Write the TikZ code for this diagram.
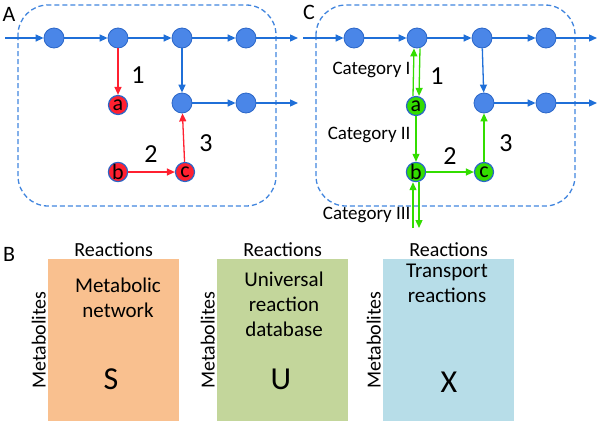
\documentclass[tikz,border=0pt]{standalone}
\usepackage{fontspec}
\setmainfont{Carlito}
\usetikzlibrary{arrows.meta}
\definecolor{nb}{HTML}{4A86E8}
\definecolor{nbd}{HTML}{2A66C8}
\definecolor{ab}{HTML}{1F6FD8}
\definecolor{rd}{HTML}{FF2030}
\definecolor{gr}{HTML}{33DD00}
\definecolor{bo}{HTML}{F9C08F}
\definecolor{bg}{HTML}{C3D69B}
\definecolor{bb}{HTML}{B7DDE8}
\begin{document}
\begin{tikzpicture}[x=1pt,y=-1pt,
 n/.style={circle,fill=nb,draw=nbd,line width=0.8pt,minimum size=20pt,inner sep=0pt},
 rn/.style={circle,fill=rd,draw=nbd,line width=1.2pt,minimum size=19pt,inner sep=0pt,font=\fontsize{22}{22}\selectfont},
 gn/.style={rn,fill=gr},
 ba/.style={-{Triangle[length=8pt,width=7pt]},ab,line width=1.3pt},
 ra/.style={-{Triangle[length=8pt,width=7pt]},rd,line width=1.3pt},
 ga/.style={-{Triangle[length=8pt,width=7pt]},gr,line width=1.3pt},
 box/.style={dash pattern=on 5pt off 3pt,ab!85,line width=1.3pt,rounded corners=30pt},
 lab/.style={font=\fontsize{22}{22}\selectfont},
 num/.style={font=\fontsize{26}{26}\selectfont},
 cat/.style={font=\fontsize{19}{19}\selectfont,anchor=east},
 mat/.style={minimum width=131pt,minimum height=162pt,anchor=north west,inner sep=0pt},
 hdr/.style={font=\fontsize{20}{20}\selectfont},
 txt/.style={font=\fontsize{21}{25}\selectfont,align=center},
 big/.style={font=\fontsize{32}{32}\selectfont}]
\useasboundingbox (0,0) rectangle (600,426);
% Panel A
\node[lab] (LA) at (9,14) {A};
\draw[box] (18,5) rectangle (276,206);
\coordinate (ainA) at (5,38);
\node[n] (a1) at (54,38) {};
\node[n] (a2) at (118,38) {};
\node[n] (a3) at (182,38) {};
\node[n] (a4) at (246,38) {};
\node[n] (a5) at (182,103) {};
\node[n] (a6) at (246,103) {};
\coordinate (aout1) at (298,38);
\coordinate (aout2) at (298,103);
\node[rn] (aa) at (118,105) {a};
\node[rn] (ab) at (118,172) {b};
\node[rn] (ac) at (185,172) {c};
\draw[ba] (ainA) -- (a1);
\draw[ba] (a1) -- (a2);
\draw[ba] (a2) -- (a3);
\draw[ba] (a3) -- (a4);
\draw[ba] (a4) -- (aout1);
\draw[ba] (a3) -- (a5);
\draw[ba] (a5) -- (a6);
\draw[ba] (a6) -- (aout2);
\draw[ra] (a2) -- (aa);
\draw[ra] (ab) -- (ac);
\draw[ra] (ac) -- (a5);
\node[num] (n1A) at (138,75) {1};
\node[num] (n2A) at (151,154) {2};
\node[num] (n3A) at (206,143) {3};
% Panel C
\node[lab] (LC) at (309,12) {C};
\draw[box] (316,5) rectangle (575,206);
\coordinate (ainC) at (303,38);
\node[n] (c1) at (354,38) {};
\node[n] (c2) at (417,38) {};
\node[n] (c3) at (482,38) {};
\node[n] (c4) at (546,38) {};
\node[n] (c5) at (484,103) {};
\node[n] (c6) at (546,103) {};
\coordinate (cout1) at (597,38);
\coordinate (cout2) at (597,103);
\node[gn] (ca) at (416,106) {a};
\node[gn] (cb) at (416,172) {b};
\node[gn] (cc) at (484,172) {c};
\coordinate (cbot) at (416,228);
\draw[ba] (ainC) -- (c1);
\draw[ba] (c1) -- (c2);
\draw[ba] (c2) -- (c3);
\draw[ba] (c3) -- (c4);
\draw[ba] (c4) -- (cout1);
\draw[ba] (c3) -- (c5);
\draw[ba] (c5) -- (c6);
\draw[ba] (c6) -- (cout2);
\draw[ga] ([xshift=-3pt]ca.north) -- ([xshift=-3pt]c2.south);
\draw[ga] ([xshift=3pt]c2.south) -- ([xshift=3pt]ca.north);
\draw[ga] (ca) -- (cb);
\draw[ga] ([xshift=-3pt]cbot) -- ([xshift=-3pt]cb.south);
\draw[ga] ([xshift=3pt]cb.south) -- ([xshift=3pt]cbot);
\draw[ga] (cb) -- (cc);
\draw[ga] (cc) -- (c5);
\node[num] (n1C) at (437,76) {1};
\node[num] (n2C) at (450,156) {2};
\node[num] (n3C) at (506,143) {3};
\node[cat] (k1) at (414,70) {Category I};
\node[cat] (k2) at (414,135) {Category II};
\node[cat] (k3) at (414,215) {Category III};
% Panel B
\node[lab] (LB) at (9,254) {B};
\node[mat,fill=bo] (m1) at (48,259) {};
\node[mat,fill=bg] (m2) at (217,259) {};
\node[mat,fill=bb] (m3) at (383,259) {};
\foreach \m in {m1,m2,m3}{
 \node[hdr,anchor=south,inner sep=2pt] at (\m.north) {Reactions};
 \node[hdr,rotate=90,anchor=south,inner sep=2pt] at (\m.west) {Metabolites};
}
\node[txt] (t1) at (118,298) {Metabolic\\network};
\node[txt] (t2) at (284,304) {Universal\\reaction\\database};
\node[txt] (t3) at (447,283) {Transport\\reactions};
\node[big] (s1) at (111,379) {S};
\node[big] (s2) at (281,379) {U};
\node[big] (s3) at (449,382) {X};
\end{tikzpicture}
\end{document}
